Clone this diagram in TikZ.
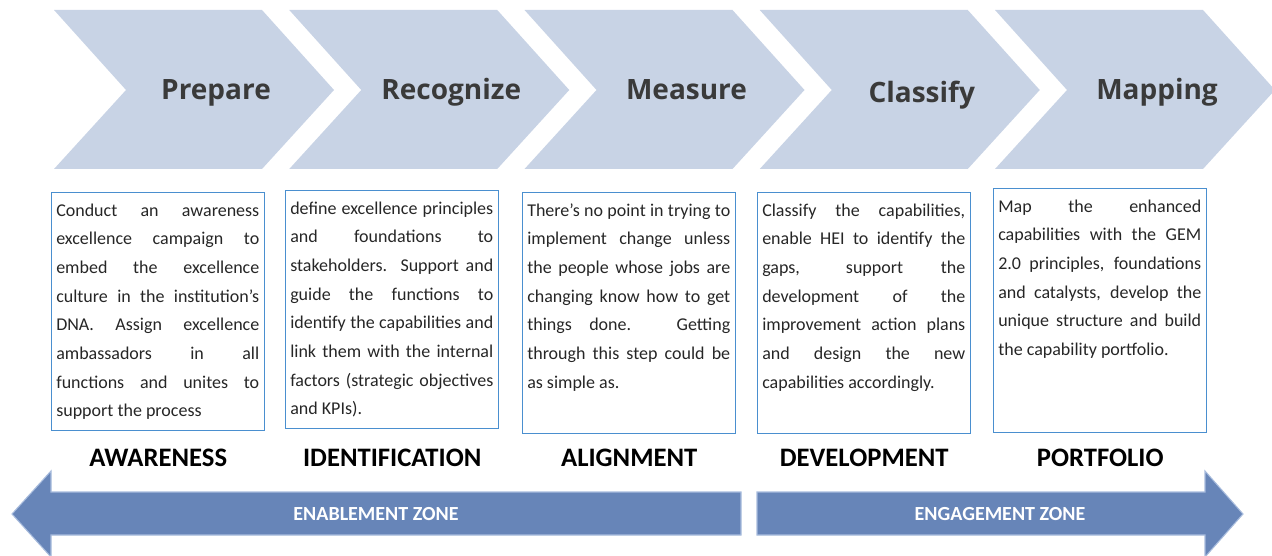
\documentclass[tikz,border=0pt]{standalone}
\usepackage{fontspec}
\setmainfont{Carlito}
\newfontfamily\headfont{Open Sans}
\usepackage{tikz}
\usetikzlibrary{positioning}
\usepackage{xcolor}
\definecolor{chevronblue}{HTML}{C8D3E5}
\definecolor{zoneblue}{HTML}{6785B8}
\definecolor{zoneedge}{HTML}{A8BCDD}
\definecolor{boxblue}{HTML}{4A8FCF}
\definecolor{headgray}{HTML}{3A3A3A}
\newlength{\pxu}
\setlength{\pxu}{0.75pt}
\setlength{\parindent}{0pt}

\begin{document}
\begin{tikzpicture}[x=\pxu, y=-\pxu]
  % Define styles for chevrons, boxes and zones
  \tikzset{
    chevron/.style={fill=chevronblue},
    steplabel/.style={
      font=\headfont\bfseries\fontsize{21}{25}\selectfont,
      text=headgray,
      anchor=base,
      inner sep=0pt
    },
    infobox/.style={
      draw=boxblue,
      line width=1.1pt,
      anchor=north west,
      inner sep=0pt
    },
    infotext/.style={
      anchor=north west,
      text width=203\pxu,
      align=justify,
      inner xsep=5\pxu,
      inner ysep=2.95pt,
      font={\fontsize{13.5}{21.5}\selectfont\sloppy\hyphenpenalty=10000},
      text=black!85,
      execute at begin node=\strut
    },
    zonelabel/.style={
      font=\bfseries\fontsize{20}{24}\selectfont,
      anchor=base,
      inner sep=0pt
    },
    zonearrow/.style={
      fill=zoneblue,
      draw=zoneedge,
      line width=0.8pt
    },
    zonetext/.style={
      font=\bfseries\fontsize{15}{18}\selectfont,
      text=white
    }
  }

  \clip (0,0) rectangle (1272,556);

  % Chevrons with the step names
  \foreach \i/\word/\ty in {1/Prepare/100, 2/Recognize/100, 3/Measure/100, 4/Classify/103, 5/Mapping/100} {
    \pgfmathsetmacro{\cx}{54+235.25*(\i-1)}
    \fill[chevron] (\cx,10) -- ++(208,0) -- ++(72,80) -- ++(-72,79) -- ++(-208,0) -- ++(72,-79) -- cycle;
    \node[steplabel] (step\i) at (\cx+162,\ty) {\word};
  }

  % Frames of the text boxes
  \foreach \i/\bx/\by/\bh in {1/51/192/238, 2/285/190/238, 3/522/192/241, 4/757/192/241, 5/993/188/244} {
    \node[infobox, minimum width=213\pxu, minimum height=\bh\pxu] (box\i) at (\bx,\by) {};
  }

  % Texts inside the boxes
  \node[infotext] (text1) at (box1.north west) {Conduct an awareness\linebreak
    excellence campaign to\linebreak
    embed the excellence\linebreak
    culture in the institution’s\linebreak
    DNA. Assign excellence\linebreak
    ambassadors in all\linebreak
    functions and unites to\linebreak
    support the process};
  \node[infotext] (text2) at (box2.north west) {define excellence principles\linebreak
    and foundations to\linebreak
    stakeholders. Support and\linebreak
    guide the functions to\linebreak
    identify the capabilities and\linebreak
    link them with the internal\linebreak
    factors (strategic objectives\linebreak
    and KPIs).};
  \node[infotext] (text3) at (box3.north west) {There’s no point in trying to\linebreak
    implement change unless\linebreak
    the people whose jobs are\linebreak
    changing know how to get\linebreak
    things done. Getting\linebreak
    through this step could be\linebreak
    as simple as.};
  \node[infotext] (text4) at (box4.north west) {Classify the capabilities,\linebreak
    enable HEI to identify the\linebreak
    gaps, support the\linebreak
    development of the\linebreak
    improvement action plans\linebreak
    and design the new\linebreak
    capabilities accordingly.};
  \node[infotext] (text5) at (box5.north west) {Map the enhanced\linebreak
    capabilities with the GEM\linebreak
    2.0 principles, foundations\linebreak
    and catalysts, develop the\linebreak
    unique structure and build\linebreak
    the capability portfolio.};

  % Stage names under the boxes
  \coordinate (zoneline) at (0,466);
  \foreach \i/\stage in {1/AWARENESS, 2/IDENTIFICATION, 3/ALIGNMENT, 4/DEVELOPMENT, 5/PORTFOLIO} {
    \node[zonelabel] (stage\i) at (box\i.south |- zoneline) {\stage};
  }

  % Zone arrows
  \filldraw[zonearrow] (12,514) -- (51,471) -- (51,492) -- (741,492) -- (741,535) -- (51,535) -- (51,557) -- cycle;
  \filldraw[zonearrow] (757,492) -- (1205,492) -- (1205,471) -- (1243,514) -- (1205,557) -- (1205,535) -- (757,535) -- cycle;
  \node[zonetext] (enablement) at (376,514) {ENABLEMENT ZONE};
  \node[zonetext] (engagement) at (1000,514) {ENGAGEMENT ZONE};
\end{tikzpicture}
\end{document}
